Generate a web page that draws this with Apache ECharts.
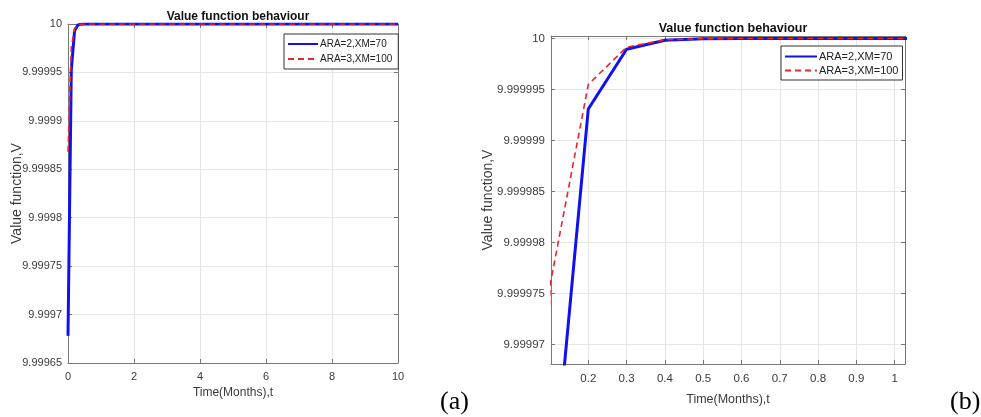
<!DOCTYPE html>
<html>
<head>
<meta charset="utf-8">
<script src="https://cdn.jsdelivr.net/npm/echarts@6/dist/echarts.min.js"></script>
<style>
  html, body { margin: 0; padding: 0; background: #fff; }
  #chart { width: 981px; height: 417px; }
</style>
</head>
<body>
<div id="chart"></div>
<script>
  // time grid (months) and the two value-function runs
  const timeMonths = [0, 0.1, 0.2, 0.3, 0.4, 0.5, 0.6, 0.7, 0.8, 0.9, 1.0, 10]
  const valueAra2 = [9.999678, 9.9999528, 9.9999931, 9.99999895, 9.99999983, 9.99999998, 10, 10, 10, 10, 10, 10]
  const valueAra3 = [9.999868, 9.9999758, 9.9999955, 9.99999915, 9.99999988, 9.99999999, 10, 10, 10, 10, 10, 10]
  const seriesNames = ['ARA=2,XM=70', 'ARA=3,XM=100']
  const panelTags = ['(a)', '(b)']

  const sans = '"Liberation Sans", Arial, sans-serif'
  const axisGray = '#777777'
  const labelGray = '#3a3a3a'

  const pairs = (vals) => timeMonths.map((t, i) => [t, vals[i]])

  // one x/y axis pair per panel, plus mirrored axes for the MATLAB box ticks
  function xAx(grid, min, max, extra, mirror) {
    return Object.assign({
      type: 'value', gridIndex: grid, min: min, max: max,
      position: mirror ? 'top' : 'bottom',
      axisLine: {show: true, onZero: false, lineStyle: {color: axisGray, width: 1}},
      axisTick: {show: true, inside: true, length: 4, lineStyle: {color: axisGray}},
      axisLabel: {show: !mirror, color: labelGray, fontFamily: sans, fontSize: 11, margin: 8},
      splitLine: {show: !mirror, lineStyle: {color: '#e6e6e6', width: 1}}
    }, extra)
  }

  function yAx(grid, min, max, extra, mirror) {
    return Object.assign({
      type: 'value', gridIndex: grid, min: min, max: max,
      position: mirror ? 'right' : 'left',
      axisLine: {show: true, onZero: false, lineStyle: {color: axisGray, width: 1}},
      axisTick: {show: true, inside: true, length: 4, lineStyle: {color: axisGray}},
      axisLabel: {show: !mirror, color: labelGray, fontFamily: sans, fontSize: 11, margin: 6},
      splitLine: {show: !mirror, lineStyle: {color: '#e6e6e6', width: 1}}
    }, extra)
  }

  const xA = {
    interval: 2,
    name: 'Time(Months),t', nameLocation: 'middle', nameGap: 24, nameMoveOverlap: false,
    nameTextStyle: {color: labelGray, fontFamily: sans, fontSize: 12}
  }
  const yA = {
    interval: 0.00005,
    name: 'Value function,V', nameLocation: 'middle', nameGap: 44, nameMoveOverlap: false,
    nameTextStyle: {color: labelGray, fontFamily: sans, fontSize: 14}
  }
  const xB = {
    splitNumber: 9,
    axisLabel: {color: labelGray, fontFamily: sans, fontSize: 11.5, margin: 9, showMinLabel: false, showMaxLabel: false},
    name: 'Time(Months),t', nameLocation: 'middle', nameGap: 29, nameMoveOverlap: false,
    nameTextStyle: {color: labelGray, fontFamily: sans, fontSize: 12.5}
  }
  const yB = {
    splitNumber: 6,
    axisLabel: {color: labelGray, fontFamily: sans, fontSize: 11.5, margin: 6, showMinLabel: false, showMaxLabel: false},
    name: 'Value function,V', nameLocation: 'middle', nameGap: 56, nameMoveOverlap: false,
    nameTextStyle: {color: labelGray, fontFamily: sans, fontSize: 14}
  }

  function lineSeries(name, vals, idx, panel) {
    const solid = idx === 0
    return {
      name: name, type: 'line', xAxisIndex: panel, yAxisIndex: panel,
      data: pairs(vals), symbol: 'none', animation: false, z: solid ? 2 : 3,
      lineStyle: solid
        ? {color: '#1010f0', width: 3}
        : {color: '#e8262e', width: 1.6, type: [6, 4]},
      itemStyle: {color: solid ? '#1010f0' : '#e8262e'}
    }
  }

  const chart = echarts.init(document.getElementById('chart'))
  chart.setOption({
    backgroundColor: '#fff',
    animation: false,
    title: [
      {text: 'Value function behaviour', left: 233, top: 6, textAlign: 'center',
        textStyle: {fontFamily: sans, fontWeight: 'bold', fontSize: 12, color: '#111'}},
      {text: 'Value function behaviour', left: 728, top: 17, textAlign: 'center',
        textStyle: {fontFamily: sans, fontWeight: 'bold', fontSize: 12.5, color: '#111'}}
    ],
    legend: [
      {data: seriesNames, left: 284, top: 34, orient: 'vertical', itemGap: 5, itemWidth: 30, itemHeight: 12,
        padding: [5, 6, 5, 3], borderColor: '#333', borderWidth: 1, backgroundColor: '#fff',
        itemStyle: {opacity: 0},
        textStyle: {fontFamily: sans, fontSize: 10, color: '#222', padding: [0, 0, 0, -3]}},
      {data: seriesNames, left: 781, top: 46, orient: 'vertical', itemGap: 3, itemWidth: 32, itemHeight: 12,
        padding: [5, 4, 4, 3], borderColor: '#333', borderWidth: 1, backgroundColor: '#fff',
        itemStyle: {opacity: 0},
        textStyle: {fontFamily: sans, fontSize: 11, color: '#222', padding: [0, 0, 0, -3]}}
    ],
    grid: [
      {left: 68, top: 24, width: 330, height: 339},
      {left: 551, top: 36, width: 354, height: 328}
    ],
    xAxis: [
      xAx(0, 0, 10, xA, false),
      xAx(1, 0.1026, 1.027, xB, false),
      xAx(0, 0, 10, {interval: 2}, true),
      xAx(1, 0.1026, 1.027, {splitNumber: 9}, true)
    ],
    yAxis: [
      yAx(0, 9.99965, 10, yA, false),
      yAx(1, 9.9999681, 10.00000025, yB, false),
      yAx(0, 9.99965, 10, {interval: 0.00005}, true),
      yAx(1, 9.9999681, 10.00000025, {splitNumber: 6}, true)
    ],
    series: [
      lineSeries(seriesNames[0], valueAra2, 0, 0),
      lineSeries(seriesNames[1], valueAra3, 1, 0),
      lineSeries(seriesNames[0], valueAra2, 0, 1),
      lineSeries(seriesNames[1], valueAra3, 1, 1)
    ],
    graphic: [
      {type: 'text', left: 440, top: 389, style: {text: panelTags[0], font: '26px "Liberation Serif", "Times New Roman", serif', fill: '#000'}},
      {type: 'text', left: 950, top: 389, style: {text: panelTags[1], font: '26px "Liberation Serif", "Times New Roman", serif', fill: '#000'}}
    ]
  })
</script>
</body>
</html>
